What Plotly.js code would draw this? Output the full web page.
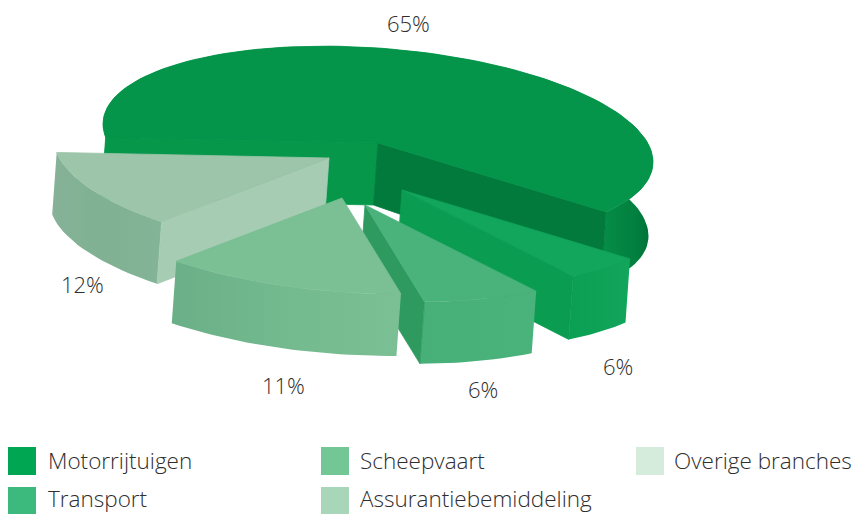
<!DOCTYPE html>
<html><head><meta charset="utf-8">
<script src="https://cdn.plot.ly/plotly-3.0.1.min.js"></script>
<style>html,body{margin:0;padding:0;background:#fff}#c{width:854px;height:514px}</style>
</head><body><div id="c"></div>
<script>
// Data
const categories = ['Motorrijtuigen','Transport','Scheepvaart','Assurantiebemiddeling','Overige branches'];
const shares = [65,6,6,11,12];
// Angular width of every wedge as drawn in the reference (degrees, estimated)
const drawnSweep = [222,17.5,26,50,44.5];
const legendColors = ['#00a651','#3cb97d','#72c795','#a8d6b8','#d5ebdc'];

// Layout / style (pixels on the 854x514 axes)
const FONT = '"Open Sans", sans-serif', TXT = '#2e2e2e';
const RX = 275, RY = 95, SHEAR = 19, DROP = [-4.5, 62];
const START = -34;
const apex = [[378,143],[402,190],[365,205],[342,198],[329,158]];
const radius = [1,1,1,0.99,1];
const dropGain = [12,2,0,0,0];
const topColor = ['#04944a','#12a55c','#4ab27b','#7bbf94','#9cc5a9'];
// radial wall colours: at the wedge's first edge, at its last edge (null = hidden)
const startFace = ['#06974b',null,null,null,'#a6ccb3'];
const endFace = ['#017a3c','#0a9c50','#2f9a60',null,null];
const faceGrad = [
 [[0,'#00622f'],[0.015,'#05944a'],[0.9,'#05944a'],[0.92,'#058a44'],[0.97,'#017f3e'],[1,'#006f36']],
 [[0,'#0a9f52'],[1,'#12a55c']],
 [[0,'#47b078'],[1,'#4ab27b']],
 [[0,'#6aaf87'],[0.5,'#74ba8f'],[1,'#7bbf94']],
 [[0,'#86b297'],[0.5,'#7fb192'],[1,'#84b497']]
];
const drawOrder = [0,1,2,4,3];
const labelPos = [[408,23],[618,366],[483,389],[283,385],[82,284]];
const legendX = [22,22,335,335,650];
const legendY = [461,501,461,501,461];
const legendTextY = [460,498,460,498,460];
const legendTextX = [46,46,358,358,672];

const bounds = []; // clockwise from START: slices 1,2,3,4 then 0
{
  let a = START;
  [1,2,3,4,0].forEach(i => { bounds[i] = [a, a - drawnSweep[i]]; a -= drawnSweep[i]; });
}
function pt(i, deg){
  const t = deg*Math.PI/180, u = radius[i]*Math.cos(t), v = radius[i]*Math.sin(t);
  return [apex[i][0] + RX*u, apex[i][1] + SHEAR*u - RY*v];
}
function arc(i){
  const [a,b] = bounds[i], n = Math.max(8, Math.round(Math.abs(a-b)/2)), out = [];
  for(let k=0;k<=n;k++) out.push(pt(i, a+(b-a)*k/n));
  return out;
}
function low(p, i){
  const u = (p[0]-apex[i][0])/RX;
  return [p[0]+DROP[0], p[1]+DROP[1]+dropGain[i]*Math.max(0,u)];
}
function poly(pts, color, grad){
  const tr = {type:'scatter', mode:'lines', x:pts.map(p=>p[0]).concat(pts[0][0]), y:pts.map(p=>p[1]).concat(pts[0][1]),
    fill:'toself', hoverinfo:'skip', showlegend:false};
  if(grad){ tr.fillgradient = {type:'horizontal', colorscale:grad}; tr.line = {width:0}; }
  else { tr.fillcolor = color; tr.line = {width:0.8, color:color}; }
  return tr;
}
const traces = [];
drawOrder.forEach(i => {
  const A = arc(i), ap = apex[i];
  traces.push(poly(A.concat(A.slice().reverse().map(p=>low(p,i))), null, faceGrad[i]));
  if(startFace[i]) traces.push(poly([ap, A[0], low(A[0],i), low(ap,i)], startFace[i]));
  if(endFace[i]) { const E = A[A.length-1]; traces.push(poly([ap, E, low(E,i), low(ap,i)], endFace[i])); }
  traces.push(poly([ap].concat(A), topColor[i]));
});
// legend swatches
traces.push({type:'scatter', mode:'markers', x:legendX, y:legendY, text:categories, hoverinfo:'text',
  marker:{symbol:'square', size:28, color:legendColors, line:{width:0}}, showlegend:false});

const annotations = [];
categories.forEach((c,i)=>{
  annotations.push({x:legendTextX[i], y:legendTextY[i], xref:'x', yref:'y', text:c, showarrow:false, xanchor:'left', yanchor:'middle',
    font:{family:FONT, size:22.5, color:TXT, weight:300}});
  annotations.push({x:labelPos[i][0], y:labelPos[i][1], xref:'x', yref:'y', text:shares[i]+'%', showarrow:false, xanchor:'center', yanchor:'middle',
    font:{family:FONT, size:22, color:TXT, weight:300}});
});
Plotly.newPlot('c', traces, {
  width:854, height:514, margin:{l:0,r:0,t:0,b:0}, paper_bgcolor:'#fff', plot_bgcolor:'#fff', showlegend:false,
  xaxis:{range:[0,854], visible:false, fixedrange:true},
  yaxis:{range:[514,0], visible:false, fixedrange:true},
  annotations
}, {displayModeBar:false, staticPlot:true});
</script></body></html>
